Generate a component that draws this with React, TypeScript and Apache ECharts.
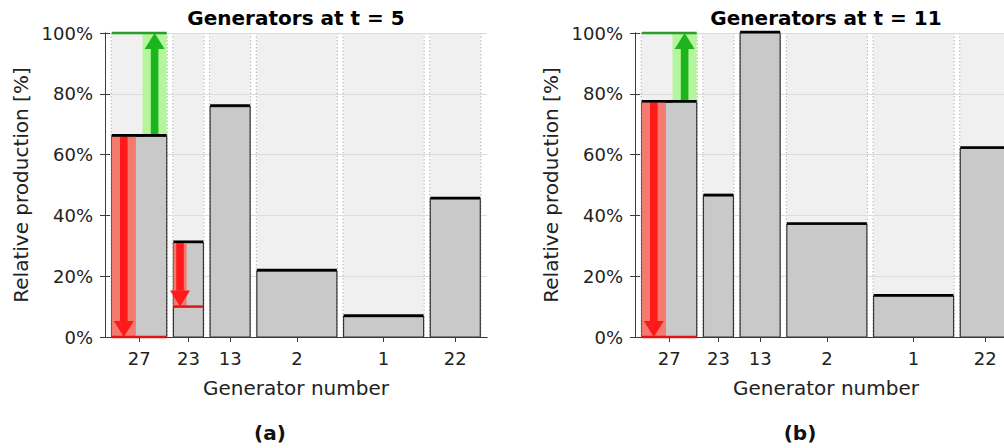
import React, { useEffect, useRef } from "react";
import * as echarts from "echarts";

// ---- data ----
const generators = ["27", "23", "13", "2", "1", "22"];
const capacities = [55, 30, 40, 80, 80, 50]; // bar widths (MW)
const productionT5 = [66, 31, 75.8, 21.7, 6.7, 45.4]; // %
const productionT11 = [77.2, 46.4, 100, 37, 13.4, 62]; // %
const yMax = 100;
const yInterval = 20;
// arrows: [generator, from %, to %]
const downArrowsT5: [string, number, number][] = [["27", 66, 0], ["23", 31, 10]];
const upArrowsT5: [string, number, number][] = [["27", 66, 100]];
const downArrowsT11: [string, number, number][] = [["27", 77.2, 0]];
const upArrowsT11: [string, number, number][] = [["27", 77.2, 100]];
const titles = ["Generators at t = 5", "Generators at t = 11"];
const captions = ["(a)", "(b)"];

// ---- layout constants ----
const GAP = 6.7;
const FONT = "DejaVu Sans";
const TXT = "#222";
const AX = "#3c3c3c";

const columns: [number, number][] = (() => {
  let x = GAP;
  return capacities.map((c) => {
    const s = x;
    x += c + GAP;
    return [s, s + c] as [number, number];
  });
})();
const xMax = capacities.reduce((a, b) => a + b, 0) + GAP * (capacities.length + 1);
const centers = columns.map(([s, e]) => (s + e) / 2);

function labelFor(v: number) {
  let best = 0;
  let d = Infinity;
  centers.forEach((c, i) => {
    const dd = Math.abs(c - v);
    if (dd < d) {
      d = dd;
      best = i;
    }
  });
  return generators[best];
}

const panels = [
  { values: productionT5, down: downArrowsT5, up: upArrowsT5, left: 105 },
  { values: productionT11, down: downArrowsT11, up: upArrowsT11, left: 635 },
];

function buildOption() {
  const grid: any[] = [];
  const xAxis: any[] = [];
  const yAxis: any[] = [];
  const series: any[] = [];
  const graphic: any[] = [];

  panels.forEach((p, g) => {
    grid.push({ left: p.left, top: 33, width: 382, height: 304, containLabel: false, outerBoundsMode: "none" });
    const baseX = {
      type: "value",
      gridIndex: g,
      min: 0,
      max: xMax,
      z: 1,
      splitLine: { show: false },
      axisLine: { show: true, lineStyle: { color: AX, width: 1 } },
      axisTick: { show: true, inside: true, length: 5, customValues: centers, lineStyle: { color: AX } },
    };
    xAxis.push({
      ...baseX,
      position: "bottom",
      name: "Generator number",
      nameLocation: "middle",
      nameGap: 41,
      nameTextStyle: { fontFamily: FONT, fontSize: 20, color: TXT },
      axisLabel: {
        customValues: centers,
        formatter: (v: number) => labelFor(v),
        fontFamily: FONT,
        fontSize: 18,
        color: TXT,
        margin: 12,
      },
    });
    xAxis.push({ ...baseX, position: "top", axisLabel: { show: false } });
    const baseY = {
      type: "value",
      gridIndex: g,
      min: 0,
      max: yMax,
      interval: yInterval,
      z: 1,
      axisLine: { show: true, lineStyle: { color: AX, width: 1 } },
      axisTick: { show: true, inside: true, length: 5, lineStyle: { color: AX } },
    };
    yAxis.push({
      ...baseY,
      position: "left",
      name: "Relative production [%]",
      nameLocation: "middle",
      nameGap: 74,
      nameRotate: 90,
      nameTextStyle: { fontFamily: FONT, fontSize: 20, color: TXT },
      axisLabel: { formatter: "{value}%", fontFamily: FONT, fontSize: 18, color: TXT, margin: 12 },
      splitLine: { show: true, lineStyle: { color: "#dcdcdc", width: 1 } },
    });
    yAxis.push({ ...baseY, position: "right", axisLabel: { show: false }, splitLine: { show: false } });

    const xi = g * 2;
    const yi = g * 2;
    const barData = columns.map(([s, e], i) => [s, e, p.values[i]]);

    // background columns
    series.push({
      type: "custom",
      xAxisIndex: xi,
      yAxisIndex: yi,
      z: 0,
      clip: false,
      silent: true,
      data: columns.map(([s, e]) => [s, e]),
      encode: { x: [0, 1] },
      renderItem: (params: any, api: any) => {
        const s = api.value(0);
        const e = api.value(1);
        const a = api.coord([s, yMax]);
        const b = api.coord([e, 0]);
        const dash = { stroke: "#b0b0b0", lineWidth: 1, lineDash: [1.5, 2] };
        return {
          type: "group",
          children: [
            { type: "rect", shape: { x: a[0], y: a[1], width: b[0] - a[0], height: b[1] - a[1] }, style: { fill: "#f0f0f0" } },
            { type: "line", shape: { x1: a[0] - 0.5, y1: a[1], x2: a[0] - 0.5, y2: b[1] }, style: dash },
            { type: "line", shape: { x1: b[0] + 0.5, y1: a[1], x2: b[0] + 0.5, y2: b[1] }, style: dash },
          ],
        };
      },
    });

    // bars
    series.push({
      type: "custom",
      xAxisIndex: xi,
      yAxisIndex: yi,
      z: 2,
      clip: false,
      data: barData,
      encode: { x: [0, 1], y: 2 },
      renderItem: (params: any, api: any) => {
        const a = api.coord([api.value(0), api.value(2)]);
        const b = api.coord([api.value(1), 0]);
        return {
          type: "rect",
          shape: { x: a[0], y: a[1], width: b[0] - a[0], height: b[1] - a[1] },
          style: { fill: "#c9c9c9", stroke: "#353535", lineWidth: 1.2 },
        };
      },
    });

    // arrows
    const arrowData: any[] = [];
    p.down.forEach(([gen, from, to]) => {
      const i = generators.indexOf(gen);
      arrowData.push([columns[i][0], columns[i][1], from, to, -1]);
    });
    p.up.forEach(([gen, from, to]) => {
      const i = generators.indexOf(gen);
      arrowData.push([columns[i][0], columns[i][1], from, to, 1]);
    });
    series.push({
      type: "custom",
      xAxisIndex: xi,
      yAxisIndex: yi,
      z: 3,
      clip: false,
      silent: true,
      data: arrowData,
      encode: { x: [0, 1], y: [2, 3] },
      renderItem: (params: any, api: any) => {
        const s = api.value(0);
        const e = api.value(1);
        const from = api.value(2);
        const to = api.value(3);
        const up = api.value(4) > 0;
        const w = e - s;
        const bs = up ? e - 0.44 * w : s;
        const be = up ? e : s + 0.44 * w;
        const p1 = api.coord([bs, from]);
        const p2 = api.coord([be, to]);
        const cx = (p1[0] + p2[0]) / 2;
        const baseY = p1[1];
        const tipY = p2[1];
        const dir = up ? -1 : 1;
        const headH = 16;
        const headW = 10;
        const shaftW = 3.8;
        const neck = tipY - dir * headH;
        const light = up ? "#b4f59e" : "#f47a70";
        const strong = up ? "#1db51d" : "#ff1a1a";
        const lineCol = up ? "#2a9d2a" : "#e01414";
        const ls = api.coord([s, to]);
        const le = api.coord([e, to]);
        return {
          type: "group",
          children: [
            {
              type: "rect",
              shape: { x: p1[0], y: Math.min(baseY, tipY), width: p2[0] - p1[0], height: Math.abs(tipY - baseY) },
              style: { fill: light },
            },
            {
              type: "rect",
              shape: { x: cx - shaftW, y: Math.min(baseY, neck), width: shaftW * 2, height: Math.abs(neck - baseY) },
              style: { fill: strong },
            },
            {
              type: "polygon",
              shape: { points: [[cx - headW, neck], [cx + headW, neck], [cx, tipY]] },
              style: { fill: strong },
            },
            {
              type: "line",
              shape: { x1: ls[0], y1: ls[1], x2: le[0], y2: le[1] },
              style: { stroke: lineCol, lineWidth: 2.5 },
            },
          ],
        };
      },
    });

    // black top line of each bar
    series.push({
      type: "custom",
      xAxisIndex: xi,
      yAxisIndex: yi,
      z: 4,
      clip: false,
      silent: true,
      data: barData,
      encode: { x: [0, 1], y: 2 },
      renderItem: (params: any, api: any) => {
        const a = api.coord([api.value(0), api.value(2)]);
        const b = api.coord([api.value(1), api.value(2)]);
        return {
          type: "line",
          shape: { x1: a[0], y1: a[1] - 1, x2: b[0], y2: b[1] - 1 },
          style: { stroke: "#000", lineWidth: 2.6 },
        };
      },
    });

    graphic.push({
      type: "text",
      x: p.left + 191,
      y: 17.5,
      style: { text: titles[g], fontFamily: FONT, fontWeight: "bold", fontSize: 20, fill: "#000", align: "center", verticalAlign: "middle" },
    });
    graphic.push({
      type: "text",
      x: g === 0 ? 270 : 800,
      y: 433,
      style: { text: captions[g], fontFamily: FONT, fontWeight: "bold", fontSize: 20, fill: "#111", align: "center", verticalAlign: "middle" },
    });
  });

  return { animation: false, backgroundColor: "#fff", grid, xAxis, yAxis, series, graphic };
}

export default function App() {
  const ref = useRef<HTMLDivElement>(null);
  useEffect(() => {
    document.body.style.margin = "0";
    const chart = echarts.init(ref.current!, undefined, { renderer: "svg" });
    chart.setOption(buildOption() as any);
    return () => chart.dispose();
  }, []);
  return <div ref={ref} style={{ width: 1004, height: 448, overflow: "hidden" }} />;
}
